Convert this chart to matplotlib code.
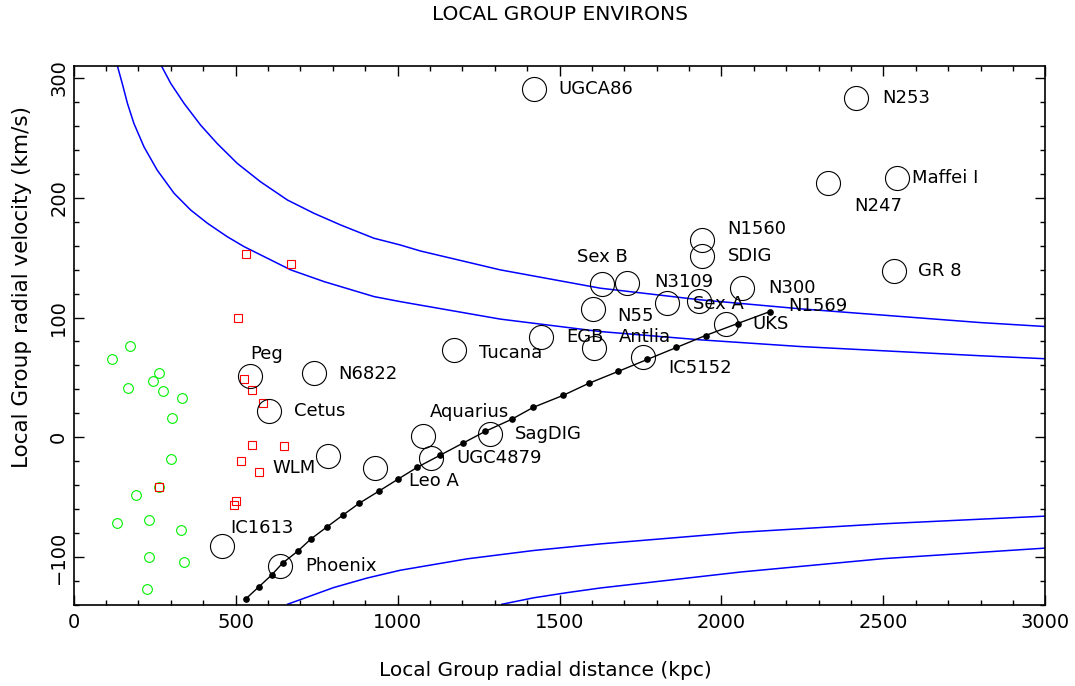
import matplotlib
matplotlib.use("Agg")
import matplotlib.pyplot as plt

# Local Group environs: radial velocity vs radial distance

# blue envelope curves
env_a_r = [135, 150, 166, 186, 217, 258, 310, 361, 413, 474, 526, 598, 670, 773, 927,
           1008, 1317, 1626, 1934, 2243, 2799, 3000]
env_a_v = [310, 295.3, 278.7, 262, 242.5, 223, 203.7, 189.8, 178.7, 167.5, 159.2, 149.5, 139.8, 130, 117.5,
           113.3, 98.7, 88.3, 81.4, 75.8, 68.1, 65.6]
env_b_r = [271, 300, 341, 392, 443, 505, 577, 660, 742, 824, 927, 1008, 1070, 1317, 1626,
           1934, 2243, 2799, 3000]
env_b_v = [310, 295.3, 278.7, 260.6, 245.3, 228.7, 213.3, 198.1, 187, 177.3, 166.2, 160.6, 155.6, 139.8, 124.5,
           114.8, 107.3, 95.8, 92.5]
env_c_r = [660, 700, 802, 906, 1008, 1214, 1420, 1626, 2058, 2500, 3000]
env_c_v = [-139.4, -135.5, -125.5, -117.5, -111, -101.5, -94.5, -89, -79.3, -72.2, -65.8]
env_d_r = [1322, 1420, 1523, 1626, 2058, 2500, 3000]
env_d_v = [-139.4, -134, -129.7, -125.8, -112.5, -101.3, -92.5]

# black trajectory with dots
traj_r = [531, 571, 611, 645, 692, 732, 781, 831, 882, 942, 1001, 1061, 1131, 1201, 1271,
          1352, 1419, 1511, 1590, 1681, 1771, 1861, 1951, 2050, 2150]
traj_v = [-135, -125, -115, -105, -95, -85, -75, -65, -55, -45, -35, -25, -15, -5, 5,
          15, 25, 35, 45, 55, 65, 75, 85, 95, 105]

# green small circles
green_r = [173, 117, 264, 246, 168, 275, 335, 303, 299, 264, 192, 133, 233, 331, 233, 341, 226]
green_v = [76.1, 65, 53.3, 46.7, 40.8, 38.3, 32.8, 16.4, -17.8, -41.9, -48.3, -71.7, -68.9, -77.5, -99.8, -103.9, -126.9]

# red squares
red_r = [531, 671, 508, 526, 550, 583, 549, 650, 518, 573, 264, 500, 494]
red_v = [152.8, 144.4, 99.2, 48.6, 39.8, 28.3, -6.4, -7.5, -19.4, -28.6, -41.9, -53.1, -56.7]

# big galaxies
gal_r = [1421, 2417, 2330, 2542, 1941, 1941, 2534, 1630, 1709, 1832, 1931, 2064, 1602, 2015,
         1443, 1608, 1757, 1175, 543, 741, 603, 786, 931, 1077, 1103, 1286, 458, 636]
gal_v = [291.2, 283.3, 212.5, 216.2, 164.8, 151.4, 139.2, 128.0, 129.2, 112.5, 114.2, 124.5, 107.0, 94.2,
         83.7, 74.5, 67.3, 73.1, 51.3, 53.3, 22.3, -15.3, -25.5, 0.8, -17.2, 2.8, -90.8, -107.2]

# galaxy labels and where they sit
lab_text = ["UGCA86", "N253", "N247", "Maffei I", "N1560", "SDIG", "GR 8", "Sex B", "N3109",
            "Sex A", "N1569", "N300", "N55", "UKS", "EGB", "Antlia", "IC5152", "Tucana", "Peg",
            "N6822", "Cetus", "WLM", "Leo A", "Aquarius", "UGC4879", "SagDIG", "IC1613", "Phoenix"]
lab_r = [1498, 2498, 2410, 2589, 2018, 2020, 2608, 1553, 1792, 1912, 2207, 2145, 1679, 2094,
         1521, 1682, 1836, 1251, 545, 818, 681, 615, 1034, 1101, 1181, 1363, 484, 715]
lab_v = [291.2, 283.3, 193.1, 216.4, 173.7, 151.4, 139.2, 150.8, 129.8, 111.4, 109.8, 124.5, 101.4, 94.3,
         83.7, 83.7, 57.8, 70.3, 69.8, 52.8, 22.3, -25.3, -36.7, 21.4, -17.2, 2.8, -75.8, -107.2]

plt.rcParams['font.family'] = ['DejaVu Sans']

fig = plt.figure(figsize=(10.75, 6.86), dpi=100)
ax = fig.add_axes([73.7 / 1075, 1 - 605 / 686, (1045.3 - 73.7) / 1075, (605 - 66) / 686])

# envelopes
for rr, vv in [(env_a_r, env_a_v), (env_b_r, env_b_v), (env_c_r, env_c_v), (env_d_r, env_d_v)]:
    ax.plot(rr, vv, color='#0000ff', lw=1.1, zorder=2)

# trajectory
ax.plot(traj_r, traj_v, '-', color='black', lw=1.0, marker='o', markersize=3.8, zorder=4)

# dwarfs
ax.plot(green_r, green_v, 'o', mfc='none', mec='#00f000', mew=0.8, markersize=7, zorder=3)
ax.plot(red_r, red_v, 's', mfc='none', mec='#ff0000', mew=0.8, markersize=6.3, zorder=3)

# galaxies
ax.plot(gal_r, gal_v, 'o', mfc='none', mec='black', mew=0.8, markersize=17.3, zorder=5)
for t, r, v in zip(lab_text, lab_r, lab_v):
    ax.text(r, v, t, ha='left', va='center', fontsize=13, color='black', zorder=6)

ax.set_xlim(0, 3000)
ax.set_ylim(-140, 310)
ax.set_xticks([0, 500, 1000, 1500, 2000, 2500, 3000])
ax.set_xticks(range(0, 3001, 100), minor=True)
ax.set_yticks([-100, 0, 100, 200, 300])
ax.set_yticks(range(-140, 311, 20), minor=True)
ax.tick_params(which='both', direction='in', top=True, right=True, width=1.0, labelsize=14)
ax.tick_params(which='major', length=7.2)
ax.tick_params(which='minor', length=3.6)
ax.tick_params(axis='x', pad=6)
ax.tick_params(axis='y', pad=4)
for lbl in ax.get_yticklabels():
    lbl.set_rotation(90)
    lbl.set_va('center')
for s in ax.spines.values():
    s.set_linewidth(1.2)

fig.text(559.5 / 1075, 1 - 15 / 686, "LOCAL GROUP ENVIRONS", ha='center', va='center', fontsize=14.5)
fig.text(545 / 1075, 1 - 671 / 686, "Local Group radial distance (kpc)", ha='center', va='center', fontsize=14.5)
fig.text(22 / 1075, 1 - 287 / 686, "Local Group radial velocity (km/s)", ha='center', va='center',
         rotation=90, fontsize=15.5)

fig.savefig("out.png", dpi=100)
